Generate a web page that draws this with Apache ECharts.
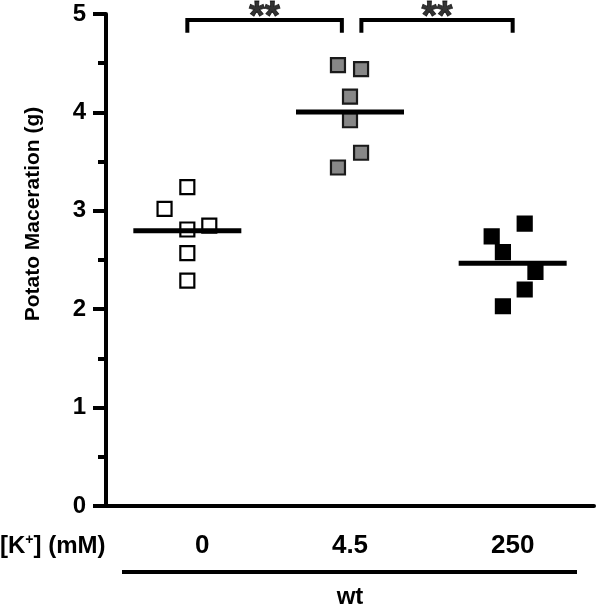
<!DOCTYPE html>
<html>
<head>
<meta charset="utf-8">
<script src="https://cdn.jsdelivr.net/npm/echarts@6/dist/echarts.min.js"></script>
<style>
html,body{margin:0;padding:0;background:#fff;}
#chart{width:600px;height:608px;}
</style>
</head>
<body>
<div id="chart"></div>
<script>
// ---- data ----
var categories = ['0', '4.5', '250'];
var group0Values = [3.24, 3.02, 2.81, 2.85, 2.57, 2.29];
var group0Jitter = [0, -0.14, 0, 0.135, 0, 0];
var group45Values = [4.48, 4.44, 4.16, 3.92, 3.59, 3.44];
var group45Jitter = [-0.074, 0.068, 0, 0, 0.068, -0.074];
var group250Values = [2.87, 2.74, 2.58, 2.38, 2.20, 2.03];
var group250Jitter = [0.074, -0.129, -0.06, 0.14, 0.074, -0.06];
var yTicks = [0, 1, 2, 3, 4, 5];
var comparisons = [[0, 1], [1, 2]];
var significance = ['**', '**'];

var FONT = 'Liberation Sans, Arial, sans-serif';

function pts(vals, jit, gi) {
  return vals.map(function (v, i) { return [gi + jit[i], v]; });
}
function mean(a) { return a.reduce(function (s, x) { return s + x; }, 0) / a.length; }

var groups = [
  { vals: group0Values, jit: group0Jitter, fill: '#ffffff', border: '#000000' },
  { vals: group45Values, jit: group45Jitter, fill: '#878787', border: '#1a1a1a' },
  { vals: group250Values, jit: group250Jitter, fill: '#000000', border: '#000000' }
];

var series = [];
groups.forEach(function (g, gi) {
  series.push({
    type: 'scatter', xAxisIndex: 1, yAxisIndex: 0,
    symbol: 'rect', symbolSize: 14,
    itemStyle: { color: g.fill, borderColor: g.border, borderWidth: 2.2, opacity: 1 },
    data: pts(g.vals, g.jit, gi), z: 3, silent: true
  });
});
series.push({
  type: 'scatter', xAxisIndex: 1, yAxisIndex: 0,
  symbol: 'rect', symbolSize: [108, 5],
  itemStyle: { color: '#000', opacity: 1 },
  data: groups.map(function (g, gi) { return [gi, mean(g.vals)]; }),
  z: 4, silent: true
});
// significance brackets
var bracketTop = 4.94, bracketLeg = 4.81, starY = 4.955;
var bracketInset = [[0, -0.05], [0.07, 0]];
comparisons.forEach(function (c, k) {
  var x0 = c[0] + bracketInset[k][0], x1 = c[1] + bracketInset[k][1];
  series.push({
    type: 'line', xAxisIndex: 1, yAxisIndex: 0, clip: false, silent: true,
    symbol: 'none', lineStyle: { color: '#000', width: 4, join: 'miter', cap: 'butt' },
    data: [[x0, bracketLeg], [x0, bracketTop], [x1, bracketTop], [x1, bracketLeg]], z: 2
  });
  series.push({
    type: 'scatter', xAxisIndex: 1, yAxisIndex: 0, clip: false, silent: true,
    symbolSize: 1, itemStyle: { color: 'rgba(0,0,0,0)' },
    label: { show: true, position: 'inside', formatter: significance[k],
      fontFamily: FONT, fontWeight: 'bold', fontSize: 40, color: '#000',
      textBorderWidth: 0.8, textBorderColor: '#000' },
    data: [[(x0 + x1) / 2, starY]]
  });
});

var chart = echarts.init(document.getElementById('chart'), null, { renderer: 'canvas' });
chart.setOption({
  backgroundColor: '#ffffff',
  animation: false,
  grid: { left: 106, right: 6, top: 14, bottom: 102 },
  xAxis: [{
    type: 'category', data: categories, boundaryGap: true,
    axisLine: { show: true, lineStyle: { color: '#000', width: 4 } },
    axisTick: { show: false },
    axisLabel: {
      margin: 27, color: '#000', fontFamily: FONT, fontWeight: 'bold', fontSize: 26,
      formatter: function (v, i) { return i === 0 ? '{a|' + v + '}' : v; },
      rich: { a: { padding: [0, 0, 0, 30], color: '#000', fontFamily: FONT, fontWeight: 'bold', fontSize: 26 } }
    },
    splitLine: { show: false }
  }, {
    type: 'value', min: -0.5, max: 2.5, show: false
  }],
  yAxis: [{
    type: 'value', min: yTicks[0], max: yTicks[yTicks.length - 1], interval: 1,
    axisLine: { show: true, onZero: false, lineStyle: { color: '#000', width: 4 } },
    axisTick: { show: true, length: 13, lineStyle: { color: '#000', width: 4 } },
    minorTick: { show: true, splitNumber: 2, length: 8, lineStyle: { color: '#000', width: 4 } },
    axisLabel: { margin: 20, color: '#000', fontFamily: FONT, fontWeight: 'bold', fontSize: 24 },
    splitLine: { show: false }
  }],
  graphic: [
    { type: 'text', x: 33, y: 214, rotation: Math.PI / 2,
      style: { text: 'Potato Maceration (g)', fill: '#000', font: 'bold 21px ' + FONT,
        textAlign: 'center', textVerticalAlign: 'middle' } },
    { type: 'text', x: 0, y: 546,
      style: { text: '{n|[K}{s|+}{n|] (mM)}', fill: '#000', textVerticalAlign: 'middle',
        rich: { n: { fontFamily: FONT, fontWeight: 'bold', fontSize: 24, fill: '#000' },
                s: { fontFamily: FONT, fontWeight: 'bold', fontSize: 14, fill: '#000', padding: [0, 0, 12, 0] } } } },
    { type: 'line', shape: { x1: 122, y1: 572, x2: 577, y2: 572 },
      style: { stroke: '#000', lineWidth: 4 } },
    { type: 'text', x: 350, y: 597,
      style: { text: 'wt', fill: '#000', font: 'bold 24px ' + FONT,
        textAlign: 'center', textVerticalAlign: 'middle' } }
  ],
  series: series
});
</script>
</body>
</html>
